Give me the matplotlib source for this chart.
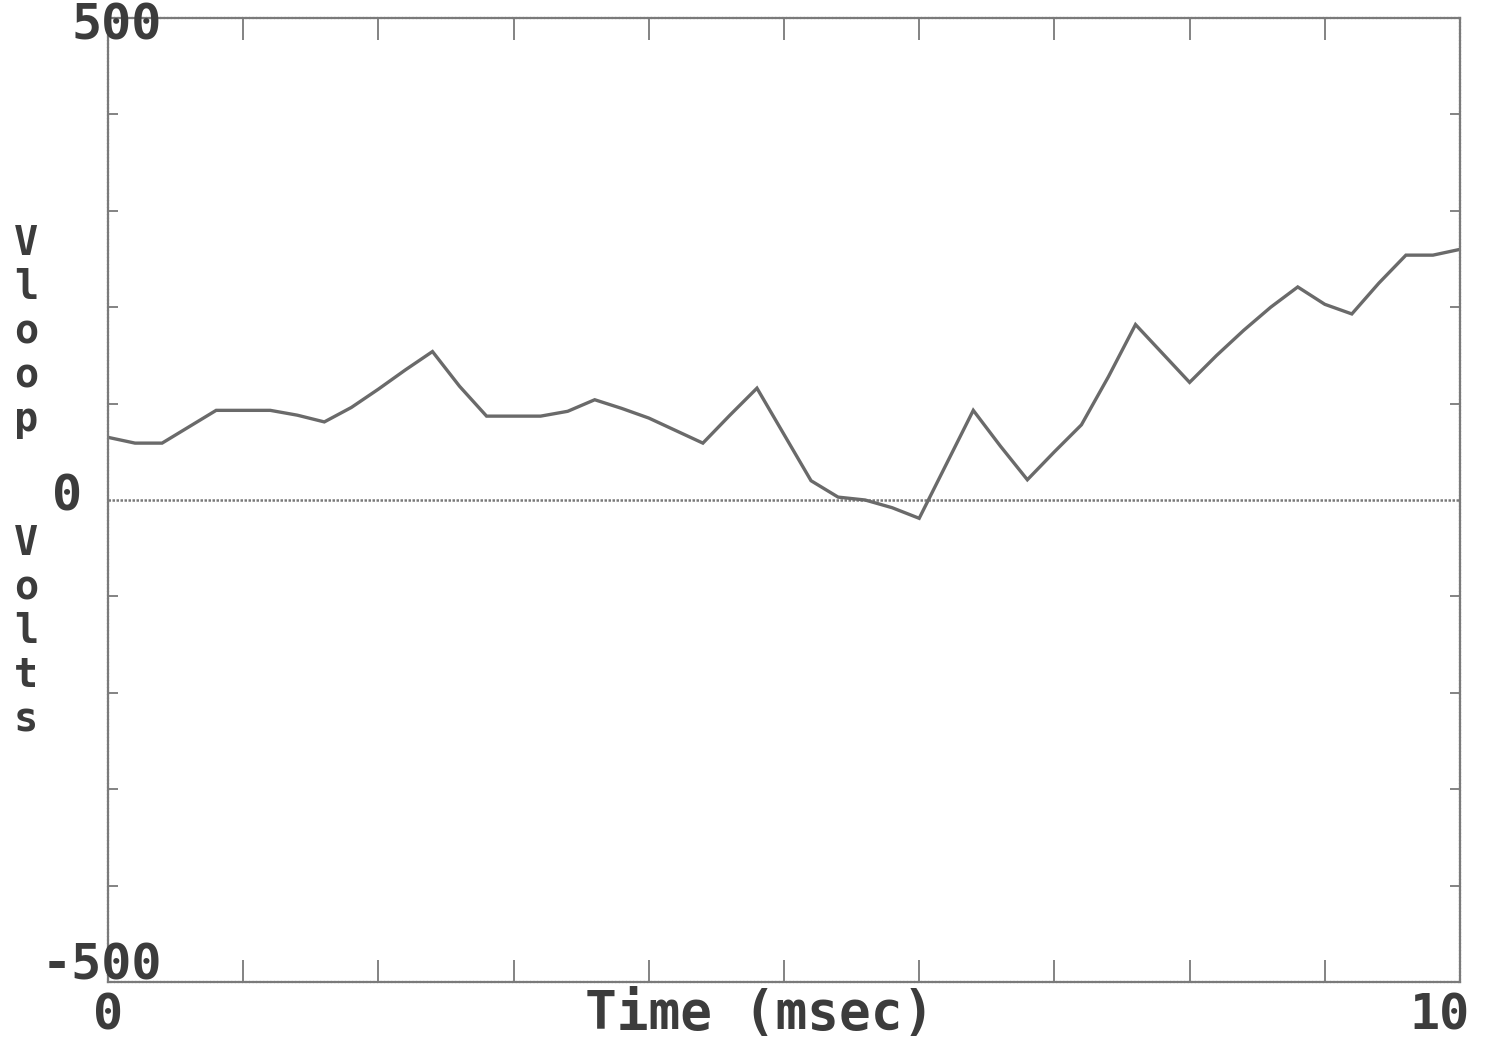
import matplotlib
matplotlib.use("Agg")
import matplotlib.pyplot as plt
import numpy as np

# ---- data ----
time_ms = [0.0, 0.2, 0.4, 0.6, 0.8, 1.0, 1.2, 1.4, 1.6, 1.8,
           2.0, 2.2, 2.4, 2.6, 2.8, 3.0, 3.2, 3.4, 3.6, 3.8,
           4.0, 4.2, 4.4, 4.6, 4.8, 5.0, 5.2, 5.4, 5.6, 5.8,
           6.0, 6.2, 6.4, 6.6, 6.8, 7.0, 7.2, 7.4, 7.6, 7.8,
           8.0, 8.2, 8.4, 8.6, 8.8, 9.0, 9.2, 9.4, 9.6, 9.8, 10.0]
vloop = [65, 59, 59, 76, 93, 93, 93, 88, 81, 96,
         115, 135, 154, 118, 87, 87, 87, 92, 104, 95,
         85, 72, 59, 88, 116, 68, 20, 3, 0, -8,
         -19, 37, 93, 56, 21, 50, 78, 128, 182, 152,
         122, 150, 176, 200, 221, 203, 193, 225, 254, 254, 260]

x_range = [0, 10]
y_range = [-500, 500]
x_major = [1, 2, 3, 4, 5, 6, 7, 8, 9]
y_minor = [-400, -300, -200, -100, 100, 200, 300, 400]
ylabel_top = ["V", "l", "o", "o", "p"]
ylabel_bot = ["V", "o", "l", "t", "s"]

W, H = 1490, 1038
fig = plt.figure(figsize=(W / 100, H / 100), dpi=100)
fig.patch.set_facecolor("white")

L, R, T, B = 108, 1460, 18, 982
ax = fig.add_axes([L / W, 1 - B / H, (R - L) / W, (B - T) / H])
ax.set_xlim(*x_range)
ax.set_ylim(*y_range)
ax.set_facecolor("white")

gray = "#7a7a7a"
dark = "#3c3c3c"

for s in ax.spines.values():
    s.set_color(gray)
    s.set_linewidth(1.6)
    s.set_linestyle((0, (1, 0.6)))

ax.set_xticks(x_major)
ax.set_xticklabels([])
ax.set_yticks([])
ax.set_yticks(y_minor, minor=True)
ax.tick_params(axis="x", which="major", direction="in", length=16, width=1.3,
               color=gray, top=True, bottom=True, labelbottom=False)
ax.tick_params(axis="y", which="minor", direction="in", length=7, width=1.3,
               color=gray, left=True, right=True)

ax.axhline(0, color=gray, lw=1.8, ls=(0, (1, 0.6)))
ax.plot(time_ms, vloop, color="#6a6a6a", lw=2.4, solid_joinstyle="miter")

fs = 36
fam = "DejaVu Sans Mono"

def ftext(px, py, s, ha="center", size=fs, va="baseline", **kw):
    fig.text(px / W, 1 - py / H, s, ha=ha, va=va, fontsize=size,
             family=fam, fontweight="bold", color=dark, **kw)

# y tick labels
ftext(162, 40, "500", ha="right")
ftext(82, 511, "0", ha="right")
ftext(162, 980, "-500", ha="right")
# x tick labels
ftext(108, 1029, "0")
ftext(1440, 1029, "10")
# x label
ftext(760, 1029, "Time (msec)", size=38)

# stacked y label, one letter per text
step = 44
for i, ch in enumerate(ylabel_top):
    ftext(26, 255 + i * step, ch, size=29)
for i, ch in enumerate(ylabel_bot):
    ftext(26, 555 + i * step, ch, size=29)

fig.savefig("out.png", dpi=100)
